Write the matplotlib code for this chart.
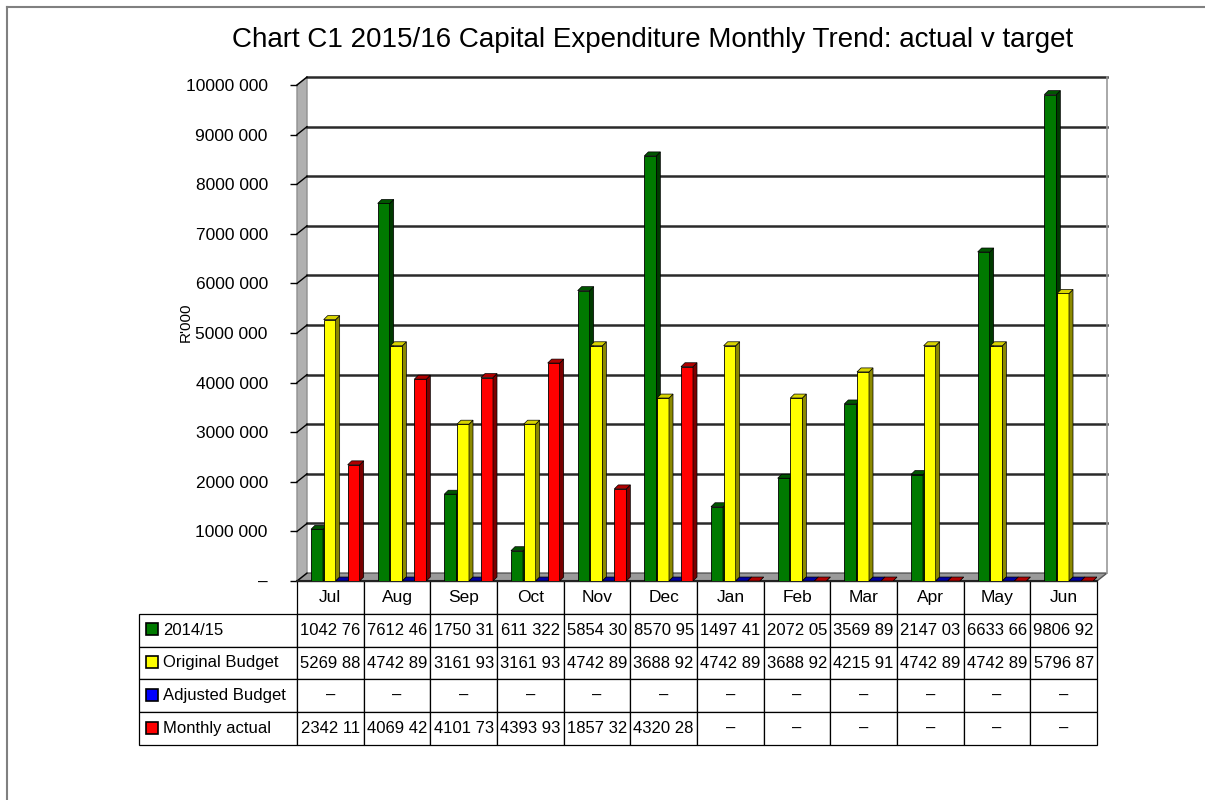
import matplotlib
matplotlib.use('Agg')
import matplotlib.pyplot as plt
import numpy as np
from matplotlib.patches import Polygon, Rectangle
from matplotlib.lines import Line2D

plt.rcParams['font.family'] = ['Liberation Sans', 'DejaVu Sans']

months = ['Jul', 'Aug', 'Sep', 'Oct', 'Nov', 'Dec', 'Jan', 'Feb', 'Mar', 'Apr', 'May', 'Jun']
series_names = ['2014/15', 'Original Budget', 'Adjusted Budget', 'Monthly actual']
prior_year = [1042760, 7612460, 1750310, 611322, 5854300, 8570950,
              1497410, 2072050, 3569890, 2147030, 6633660, 9806920]
original_budget = [5269880, 4742890, 3161930, 3161930, 4742890, 3688920,
                   4742890, 3688920, 4215910, 4742890, 4742890, 5796870]
adjusted_budget = [0] * 12
monthly_actual = [2342110, 4069420, 4101730, 4393930, 1857320, 4320280,
                  None, None, None, None, None, None]
# table text as printed (cells are truncated in the source)
prior_txt = ['1042 76', '7612 46', '1750 31', '611 322', '5854 30', '8570 95',
             '1497 41', '2072 05', '3569 89', '2147 03', '6633 66', '9806 92']
budget_txt = ['5269 88', '4742 89', '3161 93', '3161 93', '4742 89', '3688 92',
              '4742 89', '3688 92', '4215 91', '4742 89', '4742 89', '5796 87']
adjusted_txt = ['–'] * 12
actual_txt = ['2342 11', '4069 42', '4101 73', '4393 93', '1857 32', '4320 28',
              '–', '–', '–', '–', '–', '–']
yticks = list(range(0, 10000001, 1000000))
ytick_labels = ['–'] + [f'{v // 1000000}000 000' for v in yticks[1:]]

front = ['#007a00', '#ffff00', '#0000ff', '#ff0000']
side = ['#003a00', '#8c8a00', '#000070', '#7a0000']
top = ['#005500', '#d8d400', '#0000a0', '#b00000']

W, H = 1205, 800
fig = plt.figure(figsize=(W / 100, H / 100), dpi=100)
ax = fig.add_axes([297 / W, 1 - 581 / H, 800 / W, 496 / H])
ax.set_xlim(-0.5, 11.5)
ax.set_ylim(0, 10000000)
for s in ax.spines.values():
    s.set_visible(False)

ddx, ddy = 0.15, 160000   # wall depth
# floor
ax.add_patch(Polygon([(-0.5, 0), (11.5, 0), (11.5 + ddx, ddy), (-0.5 + ddx, ddy)],
                     closed=True, fc='#9a9a9a', ec='#555555', lw=1, clip_on=False, zorder=1))
# left wall
ax.add_patch(Polygon([(-0.5, 0), (-0.5 + ddx, ddy), (-0.5 + ddx, 10000000 + ddy), (-0.5, 10000000)],
                     closed=True, fc='#b0b0b0', ec='#909090', lw=1, clip_on=False, zorder=1))
for v in yticks:
    if v > 0:
        ax.plot([-0.5 + ddx, 11.5 + ddx], [v + ddy, v + ddy], color='#2a2a2a', lw=1.8,
                clip_on=False, zorder=1.5)
    ax.plot([-0.5, -0.5 + ddx], [v, v + ddy], color='black', lw=1, clip_on=False, zorder=2)
ax.plot([11.5 + ddx, 11.5 + ddx], [ddy, 10000000 + ddy], color='#999999', lw=1.2,
        clip_on=False, zorder=1.5)
ax.plot([-0.5, 11.5], [0, 0], color='#222222', lw=1.5, clip_on=False, zorder=2)

x = np.arange(len(months))
offsets = [-0.2, -0.01, 0.17, 0.35]
bw = 0.18
sdx, sdy = 0.06, 80000
all_series = [prior_year, original_budget, adjusted_budget, monthly_actual]
for i, vals in enumerate(all_series):
    h = np.array([0 if v is None else v for v in vals], dtype=float)
    xs = x + offsets[i]
    ax.bar(xs, h, width=bw, color=front[i], edgecolor='black', linewidth=0.6, zorder=3 + i)
    for xc, hv in zip(xs, h):
        x0, x1 = xc - bw / 2, xc + bw / 2
        ax.add_patch(Polygon([(x1, 0), (x1 + sdx, sdy), (x1 + sdx, hv + sdy), (x1, hv)],
                             closed=True, fc=side[i], ec='black', lw=0.5, zorder=3 + i))
        ax.add_patch(Polygon([(x0, hv), (x1, hv), (x1 + sdx, hv + sdy), (x0 + sdx, hv + sdy)],
                             closed=True, fc=top[i], ec='black', lw=0.5, zorder=3 + i))

ax.set_xticks([])
ax.set_yticks(yticks)
ax.set_yticklabels(ytick_labels, fontsize=12.5)
ax.tick_params(axis='y', length=5, width=1, pad=16)

# data table
cell_text = [[series_names[0]] + prior_txt,
             [series_names[1]] + budget_txt,
             [series_names[2]] + adjusted_txt,
             [series_names[3]] + actual_txt]
col_w = [158] + [800 / 12] * 12
tot = sum(col_w)
tab = ax.table(cellText=cell_text, colLabels=[''] + months, cellLoc='center',
               colWidths=[c / tot for c in col_w],
               bbox=[-158 / 800, -164 / 496, 958 / 800, 164 / 496])
tab.auto_set_font_size(False)
tab.set_fontsize(12)
for (r, c), cell in tab.get_celld().items():
    cell.set_linewidth(0.9)
    cell.set_edgecolor('black')
    if r == 0 and c == 0:
        cell.visible_edges = ''
    if r == 0 and c > 0:
        cell.get_text().set_fontsize(12.5)
    if c == 0 and r > 0:
        cell._loc = 'left'
        cell.PAD = 0.15
        cell.get_text().set_ha('left')

# legend keys in the table
for k in range(4):
    yc = 629 + k * 33
    fig.add_artist(Rectangle((146 / W, 1 - (yc + 6) / H), 12 / W, 12 / H, transform=fig.transFigure,
                             fc=front[k], ec='black', lw=1.2))

fig.text(653 / W, 1 - 40 / H, 'Chart C1 2015/16 Capital Expenditure Monthly Trend: actual v target',
         ha='center', va='center', fontsize=20)
fig.text(186 / W, 1 - 322 / H, "R'000", rotation=90, ha='center', va='center', fontsize=11)

# outer frame
fig.add_artist(Line2D([7 / W, 7 / W], [0, 1 - 7 / H], transform=fig.transFigure, color='#808080', lw=1.5))
fig.add_artist(Line2D([7 / W, 1], [1 - 7 / H, 1 - 7 / H], transform=fig.transFigure, color='#808080', lw=1.5))

fig.savefig('out.png', dpi=100)
